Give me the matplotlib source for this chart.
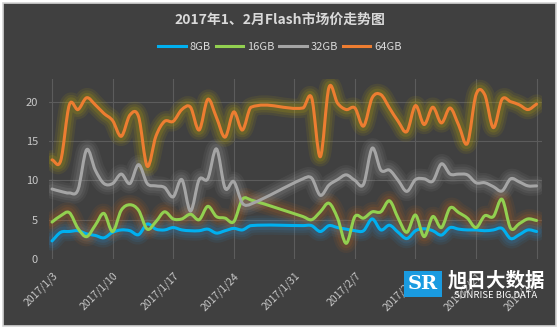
import numpy as np
import pandas as pd
import matplotlib
matplotlib.use('Agg')
import matplotlib.pyplot as plt
import matplotlib.dates as mdates
import matplotlib.transforms as mtransforms
from matplotlib.path import Path
from matplotlib.patches import PathPatch, Rectangle
from matplotlib.lines import Line2D
from matplotlib.ticker import FuncFormatter

plt.rcParams['font.family'] = ['Noto Sans CJK SC', 'DejaVu Sans']

# trading days shown (no data over the Spring Festival break 1/27-1/31)
days = pd.date_range('2017-01-03', '2017-02-28')
days = days[(days < '2017-01-27') | (days > '2017-01-31')]

series_names = ['8GB', '16GB', '32GB', '64GB']
gb8 = [2.3, 3.4, 3.5, 3.6, 3.2, 3.0, 2.7, 3.4, 3.7, 3.6, 3.1, 4.45, 3.8, 3.7, 4.0, 3.7,
       3.6, 3.6, 3.8, 3.3, 3.6, 3.9, 3.7, 4.25,
       4.25, 4.25, 3.5, 4.25, 4.0, 3.8, 3.6, 3.6, 5.1, 3.7, 4.3, 3.4, 2.6, 3.6, 3.85, 3.6,
       3.05, 4.0, 3.8, 3.7, 3.7, 3.6, 3.7, 3.9, 2.6, 3.1, 3.7, 3.5]
gb16 = [4.7, 5.5, 5.9, 3.9, 2.85, 4.3, 5.8, 3.5, 6.2, 6.9, 6.2, 3.8, 4.75, 6.0, 5.1, 5.1,
        5.7, 5.0, 6.7, 5.4, 5.2, 4.75, 7.6, 7.5,
        5.4, 5.0, 6.0, 7.1, 5.2, 2.0, 5.4, 5.2, 6.0, 6.0, 7.4, 5.2, 3.4, 5.6, 2.85, 5.4,
        4.0, 6.5, 5.9, 5.2, 4.0, 5.5, 5.4, 7.6, 3.9, 4.5, 5.1, 4.9]
gb32 = [8.9, 8.6, 8.4, 8.8, 13.9, 11.3, 9.6, 9.6, 10.8, 9.6, 12.0, 9.6, 9.3, 9.1, 7.9, 10.1,
        6.1, 10.1, 10.2, 14.0, 9.0, 9.85, 7.1, 7.0,
        10.2, 10.3, 8.1, 9.4, 10.1, 10.7, 10.0, 9.5, 14.1, 11.3, 11.3, 10.0, 8.6, 10.1, 10.2, 9.9,
        12.1, 10.8, 10.8, 10.7, 9.7, 9.7, 9.2, 8.65, 10.2, 9.8, 9.3, 9.3]
gb64 = [12.6, 12.5, 19.6, 19.0, 20.5, 19.6, 18.5, 17.6, 15.6, 18.3, 18.1, 11.8, 15.6, 17.5, 17.5, 19.0,
        19.3, 16.4, 20.3, 18.0, 15.5, 18.7, 16.4, 19.3,
        19.2, 20.5, 13.0, 21.8, 19.8, 19.0, 19.2, 16.9, 20.5, 20.9, 19.2, 17.5, 16.2, 19.5, 17.1, 19.3,
        17.3, 19.2, 17.0, 14.7, 20.9, 20.9, 16.7, 20.3, 20.0, 19.6, 19.0, 19.7]

colors = ['#00b0f0', '#92d050', '#a5a5a5', '#ed7d31']
glows = ['#2e8fd0', '#c0641e', '#a0a0a0', '#c8b400']


def smooth_path(x, y):
    # cubic hermite pieces as bezier curves (like the office "smoothed line")
    x = np.asarray(x, float)
    y = np.asarray(y, float)
    n = len(x)
    m = np.zeros(n)
    m[0] = (y[1] - y[0]) / (x[1] - x[0])
    m[-1] = (y[-1] - y[-2]) / (x[-1] - x[-2])
    m[1:-1] = (y[2:] - y[:-2]) / (x[2:] - x[:-2])
    verts = [(x[0], y[0])]
    codes = [Path.MOVETO]
    for i in range(n - 1):
        h = (x[i + 1] - x[i]) / 3
        verts += [(x[i] + h, y[i] + m[i] * h),
                  (x[i + 1] - h, y[i + 1] - m[i + 1] * h),
                  (x[i + 1], y[i + 1])]
        codes += [Path.CURVE4] * 3
    return Path(verts, codes)


fig = plt.figure(figsize=(5.6, 3.3), dpi=100, facecolor='white')
fig.patches.append(Rectangle((0.006, 0.012), 0.987, 0.98, transform=fig.transFigure,
                             facecolor='#404040', edgecolor='#d4d4d4', lw=1.2, zorder=-10))
ax = fig.add_axes([0.0875, 0.215, 0.88, 0.546])
ax.set_facecolor('none')

xs = mdates.date2num(days.to_pydatetime())
for vals, c, g in zip([gb8, gb16, gb32, gb64], colors, glows):
    path = smooth_path(xs, vals)
    for w, a in [(14, 0.09), (10.5, 0.11), (7, 0.15)]:
        ax.add_patch(PathPatch(path, fill=False, edgecolor=g, lw=w, alpha=a,
                               capstyle='round', joinstyle='round', zorder=2))
    ax.add_patch(PathPatch(path, fill=False, edgecolor=c, lw=2.2,
                           capstyle='round', joinstyle='round', zorder=3))

ax.set_xlim(xs[0] - 0.35, xs[-1] + 0.6)
ax.set_ylim(0, 22.9)
ax.set_yticks([0, 5, 10, 15, 20])
ticks = mdates.date2num(pd.date_range('2017-01-03', '2017-02-28', freq='7D').to_pydatetime())
ax.set_xticks(ticks)
ax.xaxis.set_major_formatter(FuncFormatter(
    lambda v, p: '%d/%d/%d' % (mdates.num2date(v).year, mdates.num2date(v).month, mdates.num2date(v).day)))
ax.grid(True, color='#5c5c5c', lw=0.8, zorder=0)
ax.yaxis.get_gridlines()[0].set_visible(False)
for s in ax.spines.values():
    s.set_visible(False)
ax.tick_params(length=0, colors='#c8c8c8', labelsize=8)
ax.tick_params(axis='y', pad=8)
ax.tick_params(axis='x', labelsize=7.5, pad=11)
shift = mtransforms.ScaledTranslation(4 / 100, 0, fig.dpi_scale_trans)
for lab in ax.get_xticklabels():
    lab.set_rotation(45)
    lab.set_ha('right')
    lab.set_rotation_mode('anchor')
    lab.set_va('center')
    lab.set_transform(lab.get_transform() + shift)

fig.text(0.5, 0.94, '2017年1、2月Flash市场价走势图', ha='center', va='center',
         fontsize=10, fontweight='bold', color='#d9d9d9')
handles = [Line2D([], [], color=c, lw=2.2) for c in colors]
fig.legend(handles, series_names, loc='center', bbox_to_anchor=(0.5, 0.857), ncol=4,
           frameon=False, fontsize=8, labelcolor='#d9d9d9', handlelength=2.5,
           handletextpad=0.35, columnspacing=0.4)

# watermark logo
fig.patches.append(Rectangle((404 / 560, 1 - 297 / 330), 38 / 560, 26 / 330,
                             transform=fig.transFigure, facecolor='#1a9be0', edgecolor='none', zorder=5))
fig.text(423 / 560, 1 - 284 / 330, 'SR', ha='center', va='center', color='white',
         fontsize=14, fontweight='bold', family='DejaVu Serif', zorder=6)
fig.text(496 / 560, 1 - 281 / 330, '旭日大数据', ha='center', va='center', color='white',
         fontsize=14, fontweight='bold', zorder=6)
fig.text(496 / 560, 1 - 296 / 330, 'SUNRISE BIG DATA', ha='center', va='center', color='white',
         fontsize=6.8, zorder=6)

fig.savefig('out.png', dpi=100, facecolor='white')
